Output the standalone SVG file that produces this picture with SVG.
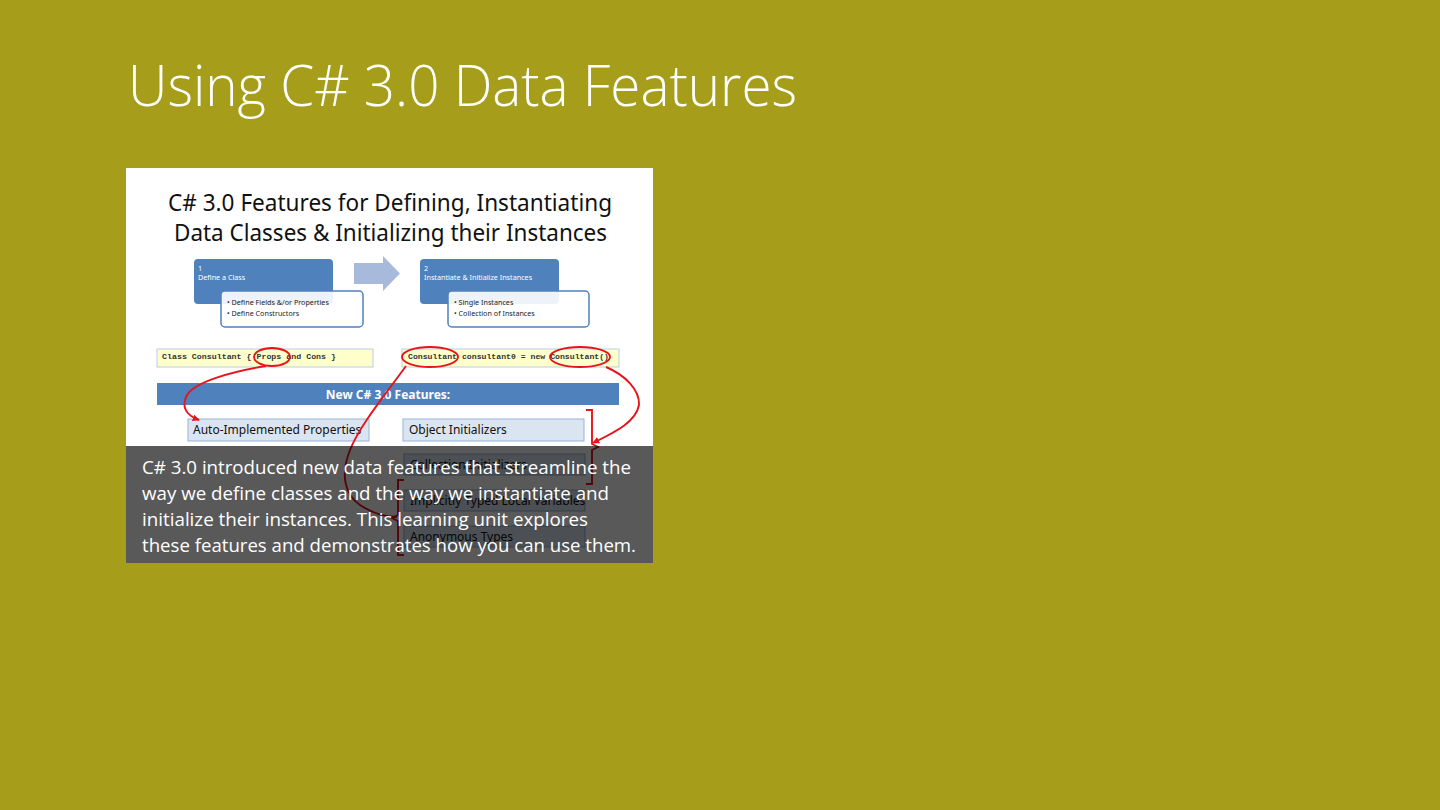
<svg xmlns="http://www.w3.org/2000/svg" width="1440" height="810" viewBox="0 0 1440 810">
<defs>
<style>
.sans{font-family:"Noto Sans","Open Sans","Liberation Sans",sans-serif}
.mono{font-family:"Liberation Mono","DejaVu Sans Mono",monospace;font-weight:bold;fill:#333}
.blue{fill:#4F81BD}
.wbox{fill:#ffffff;fill-opacity:0.9;stroke:#4F81BD;stroke-width:1.5}
.code{fill:#FFFFCC;stroke:#B9CDE5;stroke-width:1}
.feat{fill:#DBE5F1;stroke:#95B3D7;stroke-width:1}
.ft{font-family:"Noto Sans","Open Sans",sans-serif;font-size:12px;fill:#111}
.red{fill:none;stroke:#E8141B;stroke-width:1.9}
.btxt{font-family:"Noto Sans","Open Sans",sans-serif;font-size:7.2px;fill:#fff}
.bul{font-family:"Noto Sans","Open Sans",sans-serif;font-size:7.2px;fill:#222}
</style>
<marker id="ah" viewBox="0 0 10 10" refX="9" refY="5" markerWidth="7" markerHeight="7" orient="auto" markerUnits="userSpaceOnUse">
<path d="M0,0 L10,5 L0,10 z" fill="#E8141B"/>
</marker>
</defs>
<rect x="0" y="0" width="1440" height="810" fill="#A69E1A"/>
<text x="128" y="106" font-family="'Open Sans','Noto Sans',sans-serif" font-weight="300" font-size="57" fill="#ffffff" textLength="669" lengthAdjust="spacingAndGlyphs">Using C# 3.0 Data Features</text>

<g id="slide-image">
<rect x="126" y="168" width="527" height="395" fill="#ffffff"/>
<text class="sans" x="168" y="211" font-size="24" fill="#111" textLength="444" lengthAdjust="spacingAndGlyphs">C# 3.0 Features for Defining, Instantiating</text>
<text class="sans" x="174" y="241" font-size="24" fill="#111" textLength="433" lengthAdjust="spacingAndGlyphs">Data Classes &amp; Initializing their Instances</text>

<g id="step1">
<rect class="blue" x="194" y="259" width="139" height="45" rx="4"/>
<text class="btxt" x="198" y="271">1</text>
<text class="btxt" x="198" y="280">Define a Class</text>
<rect class="wbox" x="221" y="291" width="142" height="36" rx="4"/>
<text class="bul" x="227" y="305">• Define Fields &amp;/or Properties</text>
<text class="bul" x="227" y="316">• Define Constructors</text>
</g>

<g id="arrow">
<path d="M354,263 L383,263 L383,256 L400,273.5 L383,291 L383,284 L354,284 z" fill="#A7BADB"/>
</g>

<g id="step2">
<rect class="blue" x="420" y="259" width="139" height="45" rx="4"/>
<text class="btxt" x="424" y="271">2</text>
<text class="btxt" x="424" y="280">Instantiate &amp;  Initialize Instances</text>
<rect class="wbox" x="448" y="291" width="141" height="36" rx="4"/>
<text class="bul" x="454" y="305">• Single Instances</text>
<text class="bul" x="454" y="316">• Collection of Instances</text>
</g>

<g id="code1">
<rect class="code" x="157" y="349" width="216" height="18"/>
<text class="mono" x="162" y="359" font-size="8" textLength="174" lengthAdjust="spacingAndGlyphs">Class Consultant { Props and Cons }</text>
</g>
<g id="code2">
<rect class="code" x="402" y="349" width="217" height="18"/>
<text class="mono" x="408" y="359" font-size="8" textLength="201" lengthAdjust="spacingAndGlyphs">Consultant consultant0 = new Consultant()</text>
</g>

<g id="features-bar">
<rect class="blue" x="157" y="383" width="462" height="22"/>
<text x="388" y="398.5" text-anchor="middle" font-family="'Noto Sans','Open Sans',sans-serif" font-weight="bold" font-size="12" fill="#fff">New C# 3.0 Features:</text>
</g>

<g id="feat-auto">
<rect class="feat" x="188" y="419" width="181" height="22"/>
<text class="ft" x="193" y="434">Auto-Implemented Properties</text>
</g>
<g id="feat-object">
<rect class="feat" x="403" y="419" width="181" height="22"/>
<text class="ft" x="409" y="434">Object Initializers</text>
</g>
<g id="feat-collection">
<rect class="feat" x="404" y="454" width="181" height="21"/>
<text class="ft" x="410" y="469">Collection Initializers</text>
</g>
<g id="feat-implicit">
<rect class="feat" x="404" y="490" width="181" height="21"/>
<text class="ft" x="410" y="505">Implicitly Typed Local Variables</text>
</g>
<g id="feat-anon">
<rect class="feat" x="404" y="526" width="181" height="21"/>
<text class="ft" x="410" y="541">Anonymous Types</text>
</g>

<g id="connectors">
<ellipse class="red" cx="272" cy="357" rx="18" ry="9"/>
<ellipse class="red" cx="430" cy="357" rx="28" ry="10"/>
<ellipse class="red" cx="580" cy="357" rx="30" ry="10"/>
<path class="red" d="M266,366 C230,372 195,382 187,395 C180,408 188,416 199,420" marker-end="url(#ah)"/>
<path class="red" d="M406,366 C385,395 360,425 350,450 C340,475 345,495 360,505 C372,513 385,517 397,517"/>
<path class="red" d="M606,367 C625,375 640,390 639,405 C636,422 615,432 593,443" marker-end="url(#ah)"/>
<path class="red" d="M586,410 L592,410 L592,444 L598,447 L592,450 L592,484 L586,484"/>
<path class="red" d="M404,480 L398,480 L398,515 L392,518 L398,521 L398,555 L404,555"/>
</g>

<rect x="126" y="446" width="527" height="117" fill="#000" fill-opacity="0.65"/>
<g font-family="'Open Sans','Noto Sans',sans-serif" font-size="18.5" fill="#ffffff">
<text x="142" y="474" textLength="489" lengthAdjust="spacingAndGlyphs">C# 3.0 introduced new data features that streamline the</text>
<text x="142" y="500" textLength="467" lengthAdjust="spacingAndGlyphs">way we define classes and the way we instantiate and</text>
<text x="142" y="526" textLength="446" lengthAdjust="spacingAndGlyphs">initialize their instances. This learning unit explores</text>
<text x="142" y="552" textLength="494" lengthAdjust="spacingAndGlyphs">these features and demonstrates how you can use them.</text>
</g>
</g>
</svg>
